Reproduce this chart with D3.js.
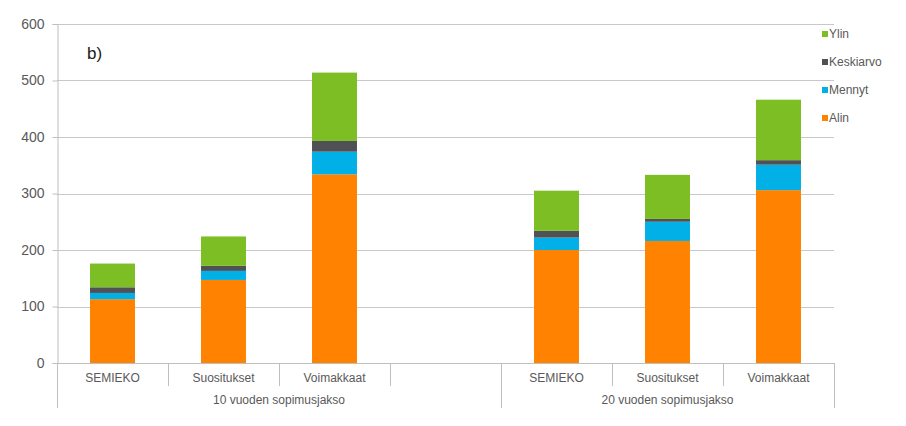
<!DOCTYPE html>
<html><head><meta charset="utf-8">
<script src="https://cdn.jsdelivr.net/npm/d3@7"></script>
<style>body{margin:0;background:#fff}svg{display:block;font-family:"Liberation Sans",Arial,sans-serif}</style>
</head><body>
<svg id="c" width="906" height="426"></svg>
<script>
const categories = ["SEMIEKO","Suositukset","Voimakkaat","","SEMIEKO","Suositukset","Voimakkaat"];
const groups = ["10 vuoden sopimusjakso","20 vuoden sopimusjakso"];
const groupSizes = [4,3];
const seriesNames = ["Alin","Mennyt","Keskiarvo","Ylin"];
const alin      = [113,147,334,null,200,216,306];
const mennyt    = [11,16,40,null,22,34,45];
const keskiarvo = [10,9,19,null,12,5,8];
const ylin      = [42,52,121,null,71,78,107];
const yTicks = [0,100,200,300,400,500,600];
const colors = {Alin:"#ff8300",Mennyt:"#00b0e6",Keskiarvo:"#4f5155",Ylin:"#7cbe24"};

(function(){
const svg = d3.select("#c");
const pL=57, pR=834, pT=24, pB=363;
const idx = categories.map((d,i)=>i);
const x = d3.scaleBand().domain(idx).range([pL,pR]).paddingInner(0).paddingOuter(0);
const y = d3.scaleLinear().domain([0,600]).range([pB,pT]);
const gridC="#c8c8c8", axisC="#bfbfbf", textC="#595959";

svg.append("g").selectAll("line").data(yTicks.filter(t=>t>0)).join("line")
  .attr("x1",pL).attr("x2",pR).attr("y1",d=>Math.round(y(d))+0.5).attr("y2",d=>Math.round(y(d))+0.5)
  .attr("stroke",gridC).attr("stroke-width",1);

const ya = svg.append("g").attr("transform",`translate(${pL+0.5},0)`)
  .call(d3.axisLeft(y).tickValues(yTicks).tickSize(5).tickPadding(8));
ya.select(".domain").attr("stroke",axisC);
ya.selectAll(".tick line").attr("stroke",axisC);
ya.selectAll(".tick text").attr("fill",textC).style("font-size","14px").style("font-family","Liberation Sans, Arial, sans-serif");

const rows = idx.map(i=>({i, Alin:alin[i], Mennyt:mennyt[i], Keskiarvo:keskiarvo[i], Ylin:ylin[i]})).filter(r=>r.Alin!==null);
const stack = d3.stack().keys(seriesNames)(rows);
const bw = x.bandwidth()*0.405;
svg.append("g").selectAll("g").data(stack).join("g").attr("fill",d=>colors[d.key])
  .selectAll("rect").data(d=>d).join("rect")
  .attr("x",d=>x(d.data.i)+x.bandwidth()/2-bw/2).attr("width",bw)
  .attr("y",d=>y(d[1])).attr("height",d=>y(d[0])-y(d[1]));

const xa = svg.append("g");
xa.append("line").attr("x1",pL).attr("x2",pR).attr("y1",pB+0.5).attr("y2",pB+0.5).attr("stroke",axisC);
let acc=0; const groupBounds=[0];
groupSizes.forEach(s=>{acc+=s; groupBounds.push(acc);});
const edge = k => k<categories.length ? x(k) : x(categories.length-1)+x.bandwidth();
for(let k=0;k<=categories.length;k++){
  const xp = edge(k);
  const long = groupBounds.includes(k);
  xa.append("line").attr("x1",Math.round(xp)+0.5).attr("x2",Math.round(xp)+0.5)
    .attr("y1",pB).attr("y2",long?408:386).attr("stroke",axisC);
}
xa.selectAll("text.cat").data(idx).join("text").attr("class","cat")
  .attr("x",i=>x(i)+x.bandwidth()/2).attr("y",382).attr("text-anchor","middle")
  .attr("fill",textC).style("font-size","12px").text(i=>categories[i]);
groups.forEach((g,j)=>{
  const a=edge(groupBounds[j]), b=edge(groupBounds[j+1]);
  xa.append("text").attr("x",(a+b)/2).attr("y",404).attr("text-anchor","middle")
    .attr("fill",textC).style("font-size","12px").text(g);
});

const legOrder = ["Ylin","Keskiarvo","Mennyt","Alin"];
const lg = svg.append("g");
legOrder.forEach((k,j)=>{
  const cy = 34 + j*28;
  lg.append("rect").attr("x",822).attr("y",cy-3).attr("width",6).attr("height",6).attr("fill",colors[k]);
  lg.append("text").attr("x",829).attr("y",cy+4).attr("fill",textC).style("font-size","12px").text(k);
});

svg.append("text").attr("x",87).attr("y",59).attr("fill","#1a1a1a").style("font-size","17px").text("b)");
})();
</script>
</body></html>
